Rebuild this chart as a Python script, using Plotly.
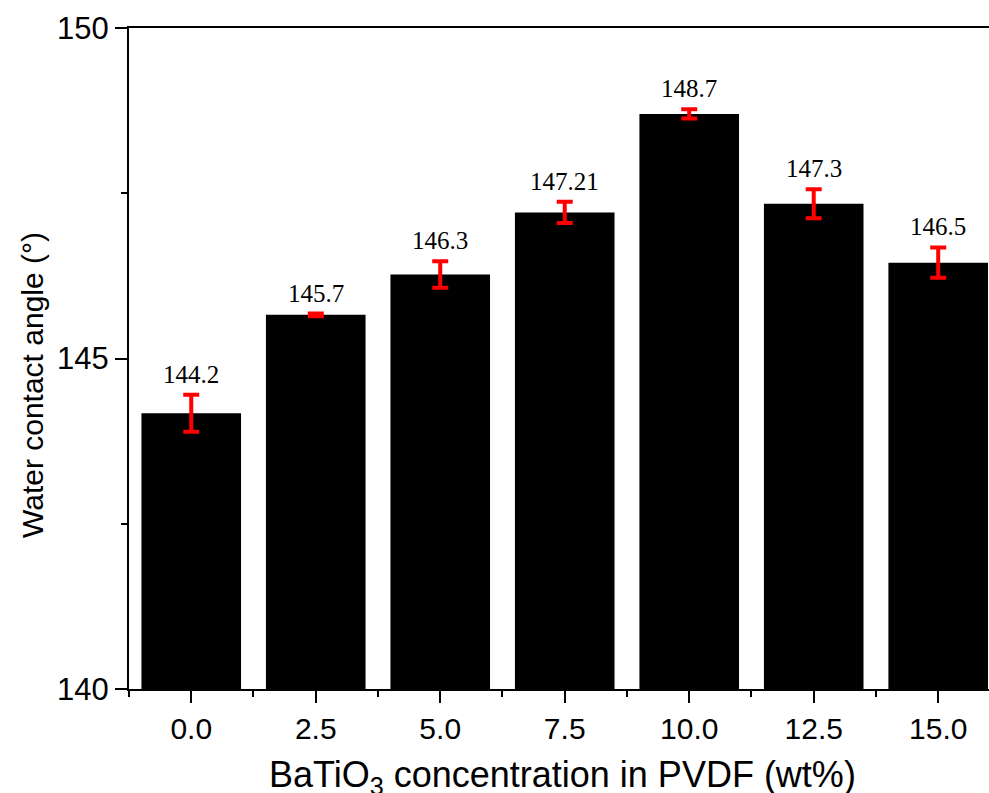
import plotly.graph_objects as go

concentration = [0.0, 2.5, 5.0, 7.5, 10.0, 12.5, 15.0]
contact_angle = [144.17, 145.66, 146.27, 147.21, 148.70, 147.34, 146.45]
error = [0.28, 0.02, 0.20, 0.16, 0.07, 0.22, 0.23]
label_text = ["144.2", "145.7", "146.3", "147.21", "148.7", "147.3", "146.5"]
x_tick_text = ["0.0", "2.5", "5.0", "7.5", "10.0", "12.5", "15.0"]

fig = go.Figure()
fig.add_trace(go.Bar(
    x=concentration, y=contact_angle, width=2.0,
    marker=dict(color="black", line=dict(width=0)),
    error_y=dict(type="data", array=error, visible=True, color="red", thickness=4, width=8),
))

for xv, yv, ev, t in zip(concentration, contact_angle, error, label_text):
    fig.add_annotation(x=xv, y=yv + ev, text=t, showarrow=False, yanchor="bottom", yshift=5,
                       font=dict(family="Liberation Serif", size=25, color="black"))

# axis titles
fig.add_annotation(xref="paper", yref="paper", x=0, y=(689 - 385) / 661, xshift=-96,
                   text="Water contact angle (°)", textangle=-90, showarrow=False,
                   xanchor="center", yanchor="middle",
                   font=dict(family="Liberation Sans", size=30, color="black"))
fig.add_annotation(xref="paper", yref="paper", x=(562.5 - 129) / 860, y=0, yshift=-63,
                   text="BaTiO<sub>3</sub> concentration in PVDF (wt%)", showarrow=False,
                   xanchor="center", yanchor="top",
                   font=dict(family="Liberation Sans", size=36, color="black"))

fig.update_layout(
    width=989, height=793,
    margin=dict(l=129, r=0, t=28, b=104),
    plot_bgcolor="white", paper_bgcolor="white",
    showlegend=False,
    font=dict(family="Liberation Sans", color="black"),
)
fig.update_xaxes(
    range=[-1.25, 16.02], tickvals=concentration, ticktext=x_tick_text,
    ticks="outside", ticklen=12, tickwidth=2, tickcolor="black",
    showline=True, linewidth=2, linecolor="black", mirror=True,
    showgrid=False, zeroline=False,
    tickfont=dict(family="Liberation Sans", size=30, color="black"),
    minor=dict(tickmode="linear", tick0=1.25, dtick=2.5, ticks="outside", ticklen=6, tickwidth=2, tickcolor="black", showgrid=False),
)
fig.update_yaxes(
    range=[140, 150], tickvals=[140, 145, 150],
    ticks="outside", ticklen=12, tickwidth=2, tickcolor="black",
    showline=True, linewidth=2, linecolor="black", mirror=False,
    showgrid=False, zeroline=False,
    tickfont=dict(family="Liberation Sans", size=31, color="black"),
    minor=dict(tickmode="linear", tick0=140, dtick=2.5, ticks="outside", ticklen=6, tickwidth=2, tickcolor="black", showgrid=False),
)

fig.write_html("out.html")
